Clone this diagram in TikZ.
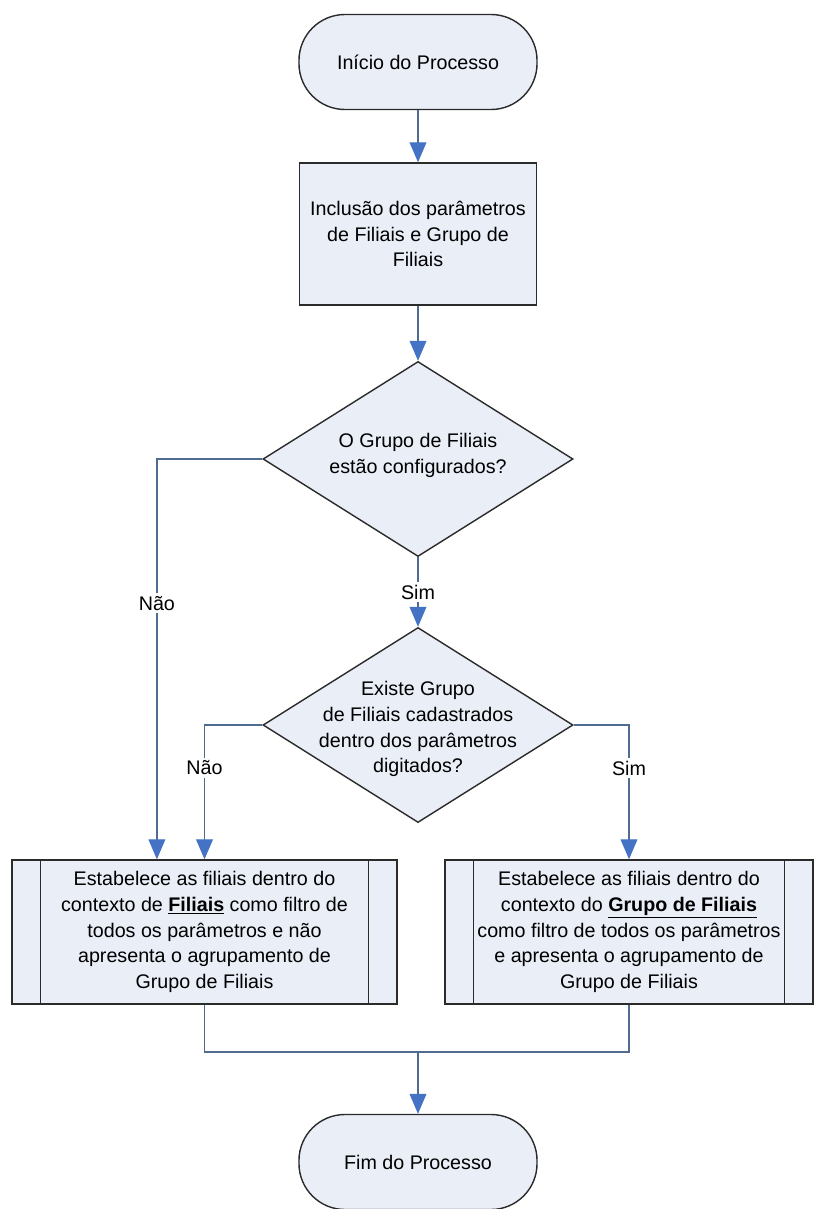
\documentclass[tikz,border=0pt]{standalone}
\usepackage{fontspec}
\setmainfont{Liberation Sans}
\usepackage{tikz}
\usetikzlibrary{shapes.geometric,arrows.meta}

\definecolor{boxfill}{HTML}{E9EEF7}
\definecolor{boxline}{HTML}{2B2B2B}
\definecolor{linecol}{HTML}{4F6B8F}
\definecolor{arrowcol}{HTML}{4472C4}

\begin{document}
\begin{tikzpicture}[x=0.025cm, y=-0.025cm,
    every node/.style={font=\fontsize{14}{18.4}\selectfont, align=center},
    term/.style={draw=boxline, fill=boxfill, line width=1pt, rounded corners=1.15cm,
        minimum width=5.95cm, minimum height=2.375cm},
    procbox/.style={draw=boxline, fill=boxfill, line width=1pt,
        minimum width=5.925cm, minimum height=3.55cm},
    decision/.style={diamond, draw=boxline, fill=boxfill, line width=1pt, inner sep=0pt,
        minimum width=7.75cm, minimum height=4.875cm},
    subproc/.style={draw=boxline, fill=boxfill, line width=1pt, minimum height=3.6cm,
        path picture={
            \draw[boxline, line width=1pt]
                ([xshift=0.72cm]path picture bounding box.north west) -- ([xshift=0.72cm]path picture bounding box.south west)
                ([xshift=-0.72cm]path picture bounding box.north east) -- ([xshift=-0.72cm]path picture bounding box.south east);
        }},
    conn/.style={draw=linecol, line width=0.9pt},
    arr/.style={conn, -{Triangle[length=0.5cm, width=0.42cm, color=arrowcol]}},
    lbl/.style={fill=white, inner sep=2pt}]

    \fill[white] (0,0) rectangle (814,1209);
    \useasboundingbox (0,0) rectangle (814,1209);

    % nodes
    \node[term] (inicio) at (418,62) {Início do Processo};
    \node[procbox] (inclusao) at (418,234) {Inclusão dos parâmetros\\de Filiais e Grupo de\\Filiais};
    \node[decision] (grupocfg) at (418,459) {};
    \node (grupocfgtxt) at ([yshift=0.1cm]grupocfg) {O Grupo de Filiais\\estão configurados?};
    \node[decision] (existe) at (418,725) {};
    \node (existetxt) at ([yshift=-0.1cm]existe) {Existe Grupo\\de Filiais cadastrados\\dentro dos parâmetros\\digitados?};
    \node[subproc, minimum width=9.625cm] (porfilial) at (204.5,932)
        {Estabelece as filiais dentro do\\contexto de \underline{\textbf{Filiais}} como filtro de\\todos os parâmetros e não\\apresenta o agrupamento de\\Grupo de Filiais};
    \node[subproc, minimum width=9.2cm] (porgrupo) at (629,932)
        {Estabelece as filiais dentro do\\contexto do \underline{\textbf{Grupo de Filiais}}\\como filtro de todos os parâmetros\\e apresenta o agrupamento de\\Grupo de Filiais};
    \node[term] (fim) at (418,1162) {Fim do Processo};
    \coordinate (juncao) at (418,1052);

    % connectors
    \draw[arr] (inicio) -- (inclusao);
    \draw[arr] (inclusao) -- (grupocfg);
    \draw[arr] (grupocfg.west) -| node[lbl, pos=0.68]{Não} ([xshift=-1.19cm]porfilial.north);
    \draw[arr] (grupocfg.south) -- node[lbl]{Sim} (existe.north);
    \draw[arr] (existe.west) -| node[lbl, pos=0.66]{Não} (porfilial.north);
    \draw[arr] (existe.east) -| node[lbl, pos=0.66]{Sim} (porgrupo.north);
    \draw[conn] (porfilial.south) |- (juncao) -| (porgrupo.south);
    \draw[arr] (juncao) -- (fim);
\end{tikzpicture}
\end{document}
